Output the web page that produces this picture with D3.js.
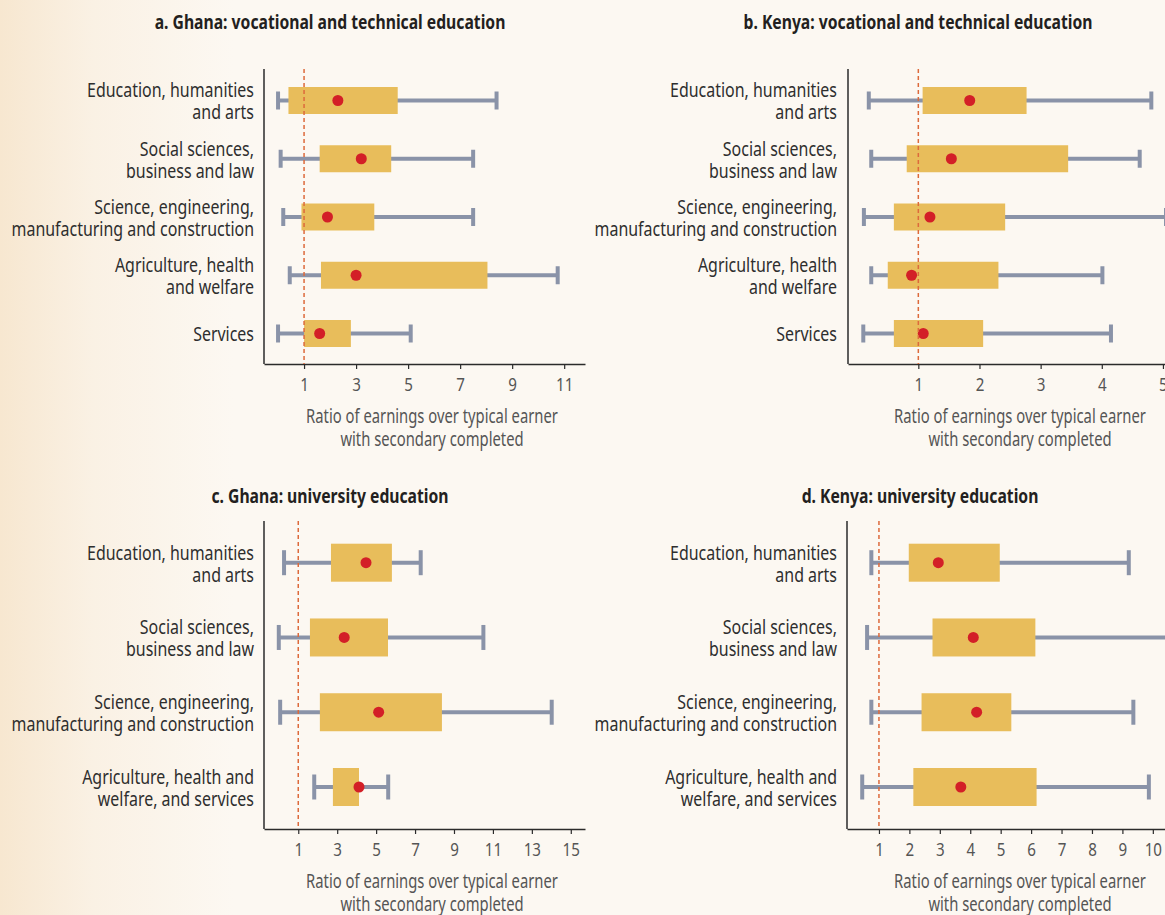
<!DOCTYPE html>
<html>
<head>
<meta charset="utf-8">
<script src="https://cdn.jsdelivr.net/npm/d3@7"></script>
<style>
  html, body { margin: 0; padding: 0; background: #fcf8f2; }
  svg { display: block; }
  text { font-family: "Noto Sans", "Open Sans", sans-serif; }
</style>
</head>
<body>
<div id="graphic"></div>
<script>
// categories, split in label lines
const vocCategories = [
  ["Education, humanities", "and arts"],
  ["Social sciences,", "business and law"],
  ["Science, engineering,", "manufacturing and construction"],
  ["Agriculture, health", "and welfare"],
  ["Services"]
]
const uniCategories = [
  ["Education, humanities", "and arts"],
  ["Social sciences,", "business and law"],
  ["Science, engineering,", "manufacturing and construction"],
  ["Agriculture, health and", "welfare, and services"]
]

// a. Ghana vocational
const ghanaVocLow  = [0.0, 0.1, 0.2, 0.45, 0.0]
const ghanaVocQ1   = [0.4, 1.6, 0.9, 1.65, 1.0]
const ghanaVocQ3   = [4.6, 4.35, 3.7, 8.05, 2.8]
const ghanaVocHigh = [8.4, 7.5, 7.5, 10.75, 5.1]
const ghanaVocMean = [2.3, 3.2, 1.9, 3.0, 1.6]

// b. Kenya vocational
const kenyaVocLow  = [0.19, 0.23, 0.11, 0.23, 0.10]
const kenyaVocQ1   = [1.07, 0.81, 0.60, 0.50, 0.60]
const kenyaVocQ3   = [2.77, 3.45, 2.42, 2.31, 2.06]
const kenyaVocHigh = [4.81, 4.62, 5.05, 4.01, 4.15]
const kenyaVocMean = [1.84, 1.54, 1.19, 0.89, 1.08]

// c. Ghana university
const ghanaUniLow  = [0.27, 0.0, 0.07, 1.82]
const ghanaUniQ1   = [2.68, 1.6, 2.11, 2.78]
const ghanaUniQ3   = [5.81, 5.61, 8.38, 4.12]
const ghanaUniHigh = [7.29, 10.51, 14.02, 5.62]
const ghanaUniMean = [4.48, 3.36, 5.13, 4.12]

// d. Kenya university
const kenyaUniLow  = [0.75, 0.61, 0.75, 0.45]
const kenyaUniQ1   = [1.98, 2.76, 2.40, 2.13]
const kenyaUniQ3   = [4.97, 6.14, 5.35, 6.18]
const kenyaUniHigh = [9.21, 10.8, 9.36, 9.87]
const kenyaUniMean = [2.95, 4.10, 4.21, 3.69]

const ticksGhanaVoc = [1, 3, 5, 7, 9, 11]
const ticksKenyaVoc = [1, 2, 3, 4, 5]
const ticksGhanaUni = [1, 3, 5, 7, 9, 11, 13, 15]
const ticksKenyaUni = [1, 2, 3, 4, 5, 6, 7, 8, 9, 10]

const axisTitle = ["Ratio of earnings over typical earner", "with secondary completed"]

function rows(cats, low, q1, q3, high, mean) {
  return cats.map((c, i) => ({ key: c.join(' '), lines: c, low: low[i], q1: q1[i], q3: q3[i], high: high[i], mean: mean[i] }))
}

const panels = [
  { title: 'a. Ghana: vocational and technical education', titleX: 330, titleY: 29,
    data: rows(vocCategories, ghanaVocLow, ghanaVocQ1, ghanaVocQ3, ghanaVocHigh, ghanaVocMean),
    domain: [-0.54, 11.8], xr: [264, 585], top: 69, yr: [100.5, 333.5], base: 364,
    ticks: ticksGhanaVoc, boxH: 27, capH: 18, labelX: 254, axisTitleX: 432 },
  { title: 'b. Kenya: vocational and technical education', titleX: 918, titleY: 29,
    data: rows(vocCategories, kenyaVocLow, kenyaVocQ1, kenyaVocQ3, kenyaVocHigh, kenyaVocMean),
    domain: [-0.15, 5.05], xr: [848, 1166], top: 69, yr: [100.5, 333.5], base: 364,
    ticks: ticksKenyaVoc, boxH: 27, capH: 18, labelX: 837, axisTitleX: 1020 },
  { title: 'c. Ghana: university education', titleX: 330, titleY: 503,
    data: rows(uniCategories, ghanaUniLow, ghanaUniQ1, ghanaUniQ3, ghanaUniHigh, ghanaUniMean),
    domain: [-0.76, 15.73], xr: [264, 585], top: 521, yr: [562.7, 787], base: 829,
    ticks: ticksGhanaUni, boxH: 38, capH: 25, labelX: 254, axisTitleX: 432 },
  { title: 'd. Kenya: university education', titleX: 920, titleY: 503,
    data: rows(uniCategories, kenyaUniLow, kenyaUniQ1, kenyaUniQ3, kenyaUniHigh, kenyaUniMean),
    domain: [-0.05, 10.4], xr: [847, 1165], top: 521, yr: [562.7, 787], base: 829,
    ticks: ticksKenyaUni, boxH: 38, capH: 25, labelX: 837, axisTitleX: 1020 }
]

var width = 1165
var height = 915

var svg = d3.select('#graphic').append('svg')
  .attr('width', width)
  .attr('height', height)

// the original uses a condensed face; squeeze the installed one horizontally
function squeeze(str, bold, target) {
  var t = svg.append('text')
    .style('font-size', '20px')
    .style('font-weight', bold ? 'bold' : 'normal')
    .text(str)
  var w = t.node().getComputedTextLength()
  t.remove()
  return target / w
}
var kLabel = squeeze('Education, humanities', false, 167)
var kAxis = squeeze(axisTitle[0], false, 252)
var kTitle = squeeze(panels[0].title, true, 351)

// warm tint on the left edge of the page
var grad = svg.append('defs').append('linearGradient')
  .attr('id', 'bg')
  .attr('x1', 0).attr('x2', 1).attr('y1', 0).attr('y2', 0)
grad.append('stop').attr('offset', '0%').attr('stop-color', '#f7e7d0')
grad.append('stop').attr('offset', '8%').attr('stop-color', '#faf1e4')
grad.append('stop').attr('offset', '20%').attr('stop-color', '#fcf8f2')
grad.append('stop').attr('offset', '100%').attr('stop-color', '#fcf8f2')

svg.insert('rect', 'defs')
  .attr('width', width).attr('height', height)
  .attr('fill', 'url(#bg)')

panels.forEach(p => {
  var g = svg.append('g')

  var x = d3.scaleLinear().domain(p.domain).range(p.xr)
  var y = d3.scalePoint().domain(p.data.map(d => d.key)).range(p.yr)

  g.append('g')
    .attr('transform', 'translate(' + p.titleX + ',' + p.titleY + ') scale(' + kTitle + ',1)')
    .append('text')
    .attr('text-anchor', 'middle')
    .style('font-size', '20px')
    .style('font-weight', 'bold')
    .attr('fill', '#231f20')
    .text(p.title)

  // x axis
  var xAxis = d3.axisBottom(x)
    .tickValues(p.ticks)
    .tickSize(5)
    .tickSizeOuter(0)
    .tickFormat(d3.format('d'))

  var ax = g.append('g')
    .attr('transform', 'translate(0,' + p.base + ')')
    .call(xAxis)
  ax.select('.domain').attr('stroke', '#2b2b2b').attr('stroke-width', 1.5)
  ax.selectAll('.tick line').attr('stroke', '#2b2b2b').attr('stroke-width', 1.2)
  ax.selectAll('.tick text')
    .attr('y', 27)
    .attr('dy', null)
    .attr('transform', 'scale(' + kLabel + ',1)')
    .attr('fill', '#555')
    .style('font-size', '19px')
    .style('font-family', null)
  ax.attr('font-family', null).attr('font-size', null)

  // y axis line only
  g.append('line')
    .attr('x1', p.xr[0]).attr('x2', p.xr[0])
    .attr('y1', p.top).attr('y2', p.base)
    .attr('stroke', '#2b2b2b').attr('stroke-width', 1.5)

  // category labels
  var labels = g.append('g')
    .attr('transform', 'translate(' + p.labelX + ',0) scale(' + kLabel + ',1)')
    .selectAll('.cat')
    .data(p.data)
    .enter().append('text')
    .attr('class', 'cat')
    .attr('text-anchor', 'end')
    .attr('fill', '#2e2e2e')
    .style('font-size', '20px')
  labels.each(function (d) {
    var t = d3.select(this)
    var cy = y(d.key)
    if (d.lines.length == 1) {
      t.append('tspan').attr('x', 0).attr('y', cy + 8).text(d.lines[0])
    } else {
      t.append('tspan').attr('x', 0).attr('y', cy - 3).text(d.lines[0])
      t.append('tspan').attr('x', 0).attr('y', cy + 19).text(d.lines[1])
    }
  })

  // axis title
  g.append('g')
    .attr('transform', 'translate(' + p.axisTitleX + ',0) scale(' + kAxis + ',1)')
    .append('text')
    .attr('text-anchor', 'middle')
    .attr('fill', '#555')
    .style('font-size', '20px')
    .selectAll('tspan')
    .data(axisTitle)
    .enter().append('tspan')
    .attr('x', 0)
    .attr('y', (d, i) => p.base + 59 + i * 23)
    .text(d => d)

  var wColor = '#8a93a8'

  var box = g.selectAll('.row')
    .data(p.data)
    .enter().append('g')
    .attr('class', 'row')
    .attr('transform', d => 'translate(0,' + y(d.key) + ')')

  box.append('line')
    .attr('x1', d => x(d.low)).attr('x2', d => x(d.high))
    .attr('stroke', wColor).attr('stroke-width', 4)
  box.append('line')
    .attr('x1', d => x(d.low)).attr('x2', d => x(d.low))
    .attr('y1', -p.capH / 2).attr('y2', p.capH / 2)
    .attr('stroke', wColor).attr('stroke-width', 4)
  box.append('line')
    .attr('x1', d => x(d.high)).attr('x2', d => x(d.high))
    .attr('y1', -p.capH / 2).attr('y2', p.capH / 2)
    .attr('stroke', wColor).attr('stroke-width', 4)
  box.append('rect')
    .attr('x', d => x(d.q1))
    .attr('width', d => x(d.q3) - x(d.q1))
    .attr('y', -p.boxH / 2)
    .attr('height', p.boxH)
    .attr('fill', '#e8bd5b')

  // reference line at ratio 1
  g.append('line')
    .attr('x1', x(1)).attr('x2', x(1))
    .attr('y1', p.top).attr('y2', p.base)
    .attr('stroke', '#dd6a3c')
    .attr('stroke-width', 1.5)
    .attr('stroke-dasharray', '4,3')

  box.append('circle')
    .attr('cx', d => x(d.mean))
    .attr('r', 5.5)
    .attr('fill', '#d31f27')
})
</script>
</body>
</html>
